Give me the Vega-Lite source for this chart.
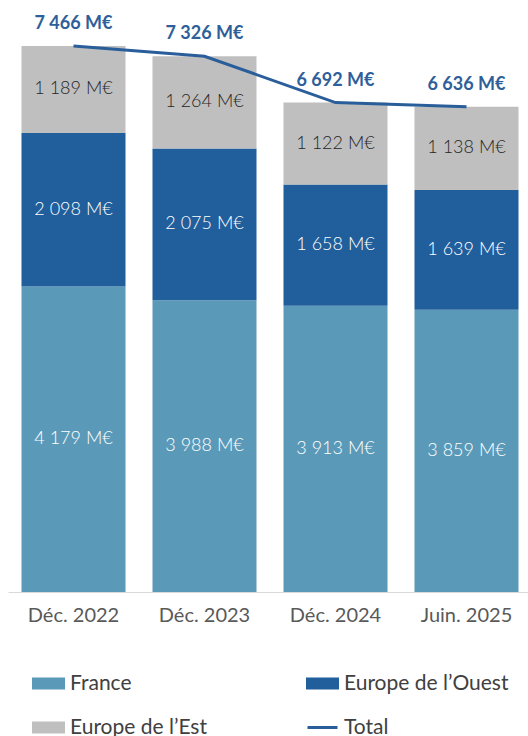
{
  "$schema": "https://vega.github.io/schema/vega-lite/v6.json",
  "width": 524,
  "height": 592,
  "autosize": "none",
  "padding": {"left": 8, "top": 0, "right": 0, "bottom": 144},
  "background": "white",
  "config": {"view": {"stroke": null}, "font": "Lato"},
  "data": {
    "values": [
      {"periode": "Déc. 2022", "serie": "France", "ordre": 1, "valeur": 4179, "etiquette": "4 179 M€"},
      {"periode": "Déc. 2022", "serie": "Europe de l’Ouest", "ordre": 2, "valeur": 2098, "etiquette": "2 098 M€"},
      {"periode": "Déc. 2022", "serie": "Europe de l’Est", "ordre": 3, "valeur": 1189, "etiquette": "1 189 M€"},
      {"periode": "Déc. 2022", "serie": "Total", "ordre": 4, "valeur": 7466, "etiquette": "7 466 M€"},
      {"periode": "Déc. 2023", "serie": "France", "ordre": 1, "valeur": 3988, "etiquette": "3 988 M€"},
      {"periode": "Déc. 2023", "serie": "Europe de l’Ouest", "ordre": 2, "valeur": 2075, "etiquette": "2 075 M€"},
      {"periode": "Déc. 2023", "serie": "Europe de l’Est", "ordre": 3, "valeur": 1264, "etiquette": "1 264 M€"},
      {"periode": "Déc. 2023", "serie": "Total", "ordre": 4, "valeur": 7326, "etiquette": "7 326 M€"},
      {"periode": "Déc. 2024", "serie": "France", "ordre": 1, "valeur": 3913, "etiquette": "3 913 M€"},
      {"periode": "Déc. 2024", "serie": "Europe de l’Ouest", "ordre": 2, "valeur": 1658, "etiquette": "1 658 M€"},
      {"periode": "Déc. 2024", "serie": "Europe de l’Est", "ordre": 3, "valeur": 1122, "etiquette": "1 122 M€"},
      {"periode": "Déc. 2024", "serie": "Total", "ordre": 4, "valeur": 6692, "etiquette": "6 692 M€"},
      {"periode": "Juin. 2025", "serie": "France", "ordre": 1, "valeur": 3859, "etiquette": "3 859 M€"},
      {"periode": "Juin. 2025", "serie": "Europe de l’Ouest", "ordre": 2, "valeur": 1639, "etiquette": "1 639 M€"},
      {"periode": "Juin. 2025", "serie": "Europe de l’Est", "ordre": 3, "valeur": 1138, "etiquette": "1 138 M€"},
      {"periode": "Juin. 2025", "serie": "Total", "ordre": 4, "valeur": 6636, "etiquette": "6 636 M€"}
    ]
  },
  "encoding": {
    "x": {
      "field": "periode",
      "type": "nominal",
      "sort": ["Déc. 2022", "Déc. 2023", "Déc. 2024", "Juin. 2025"],
      "scale": {"paddingInner": 0.206, "paddingOuter": 0.103},
      "axis": {
        "title": null,
        "labelAngle": 0,
        "labelFontSize": 20,
        "labelColor": "#595959",
        "labelPadding": 13,
        "ticks": false,
        "domainColor": "#D9D9D9",
        "domainWidth": 1
      }
    }
  },
  "layer": [
    {
      "transform": [{"filter": "datum.serie !== 'Total'"}],
      "mark": {"type": "bar"},
      "encoding": {
        "y": {"field": "valeur", "type": "quantitative", "stack": "zero", "scale": {"domain": [0, 8095], "nice": false}, "axis": null},
        "color": {
          "field": "serie",
          "type": "nominal",
          "scale": {
            "domain": ["France", "Europe de l’Ouest", "Europe de l’Est", "Total"],
            "range": ["#5A9AB8", "#215E9C", "#BFBFBF", "#2A5E9A"]
          },
          "legend": {
            "orient": "none",
            "legendX": 24,
            "legendY": 667,
            "direction": "horizontal",
            "columns": 2,
            "columnPadding": 94,
            "rowPadding": 17,
            "title": null,
            "symbolSize": 900,
            "labelFontSize": 21,
            "labelLimit": 400,
            "labelColor": "#404040",
            "labelOffset": 5,
            "encode": {
              "symbols": {
                "update": {
                  "shape": {"signal": "datum.value === 'Total' ? 'stroke' : 'M-1,-0.3H1V0.3H-1Z'"},
                  "fill": {"signal": "datum.value === 'Total' ? 'transparent' : scale('color', datum.value)"},
                  "stroke": {"signal": "datum.value === 'Total' ? scale('color', datum.value) : 'transparent'"},
                  "strokeWidth": {"value": 3},
                  "opacity": {"value": 1}
                }
              }
            }
          }
        },
        "order": {"field": "ordre", "type": "quantitative"}
      }
    },
    {
      "transform": [
        {"filter": "datum.serie !== 'Total'"},
        {"stack": "valeur", "groupby": ["periode"], "sort": [{"field": "ordre", "order": "ascending"}], "as": ["y0", "y1"]},
        {"fold": ["y0", "y1"], "as": ["bord", "pos"]},
        {"aggregate": [{"op": "mean", "field": "pos", "as": "milieu"}], "groupby": ["periode", "serie", "ordre", "etiquette"]}
      ],
      "mark": {"type": "text", "fontSize": 18, "fontWeight": 300, "baseline": "middle", "align": "center"},
      "encoding": {
        "y": {"field": "milieu", "type": "quantitative"},
        "text": {"field": "etiquette", "type": "nominal"},
        "color": {"condition": {"test": "datum.ordre === 3", "value": "#262626"}, "value": "#FFFFFF"}
      }
    },
    {
      "transform": [{"filter": "datum.serie === 'Total'"}],
      "mark": {"type": "line", "strokeWidth": 3},
      "encoding": {
        "y": {"field": "valeur", "type": "quantitative", "stack": null},
        "color": {"field": "serie", "type": "nominal"}
      }
    },
    {
      "transform": [{"filter": "datum.serie === 'Total'"}],
      "mark": {"type": "text", "fontSize": 18, "fontWeight": "bold", "dy": -22, "color": "#2E5F9A", "baseline": "middle"},
      "encoding": {
        "y": {"field": "valeur", "type": "quantitative"},
        "text": {"field": "etiquette", "type": "nominal"}
      }
    }
  ]
}
